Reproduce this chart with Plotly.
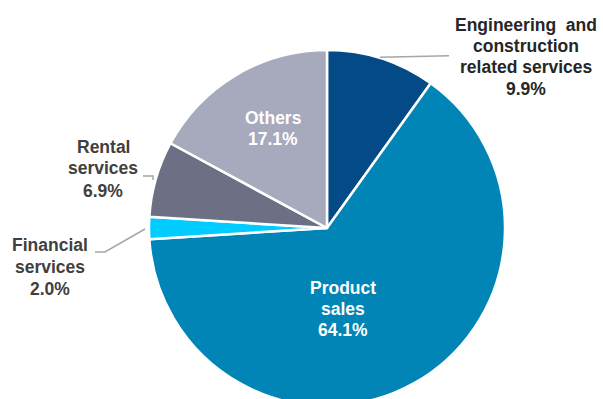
import plotly.graph_objects as go

# ---- data ----
segments = ["Engineering and construction related services", "Product sales",
            "Financial services", "Rental services", "Others"]
label_lines = [
    ["Engineering\u00a0 and", "construction", "related services"],
    ["Product", "sales"],
    ["Financial", "services"],
    ["Rental", "services"],
    ["Others"],
]
shares = [9.9, 64.1, 2.0, 6.9, 17.1]
colors = ["#034A87", "#0085B6", "#00CCFF", "#6D7084", "#A7A9BC"]

# ---- layout geometry (pixels) ----
W, H = 603, 410
cx, cy, r = 327, 228, 178

# label placement: (x center px, first-line y px, line spacing, text color)
label_pos = [
    (526, 24.5, 21.4, "#262626"),
    (343, 287.5, 21.25, "white"),
    (50, 245.0, 21.75, "#404040"),
    (103, 146.5, 22.0, "#404040"),
    (273, 118.0, 21.0, "white"),
]

fig = go.Figure(go.Pie(
    labels=segments,
    values=shares,
    sort=False,
    direction="clockwise",
    rotation=0,
    marker=dict(colors=colors, line=dict(color="white", width=2.5)),
    textinfo="none",
    showlegend=False,
    domain=dict(x=[(cx - r) / W, (cx + r) / W],
                y=[(H - cy - r) / H, (H - cy + r) / H]),
))

annotations = []
for lines, val, (px, py, dy, col) in zip(label_lines, shares, label_pos):
    all_lines = lines + [f"{val:.1f}%"]
    for i, t in enumerate(all_lines):
        annotations.append(dict(
            x=px / W, y=1 - (py + i * dy) / H, xref="paper", yref="paper",
            text=t, showarrow=False, xanchor="center", yanchor="middle",
            font=dict(family="Arial, Liberation Sans, sans-serif", size=17.5,
                      color=col, weight="bold"),
        ))

# leader lines (pixel coords)
leaders = [
    [(380, 57.3), (449, 55.7)],
    [(145, 229), (105, 252), (95, 252)],
    [(143, 176), (153, 176), (153, 180)],
]
shapes = []
for pts in leaders:
    path = "M " + " L ".join(f"{x / W},{1 - y / H}" for x, y in pts)
    shapes.append(dict(type="path", xref="paper", yref="paper", path=path,
                       line=dict(color="#A6A6A6", width=1.5)))

fig.update_layout(
    width=W, height=H,
    margin=dict(l=0, r=0, t=0, b=0),
    paper_bgcolor="white", plot_bgcolor="white",
    annotations=annotations, shapes=shapes,
)

fig.write_html("out.html",
               post_script="document.documentElement.style.overflow='hidden';"
                           "document.body.style.overflow='hidden';")
